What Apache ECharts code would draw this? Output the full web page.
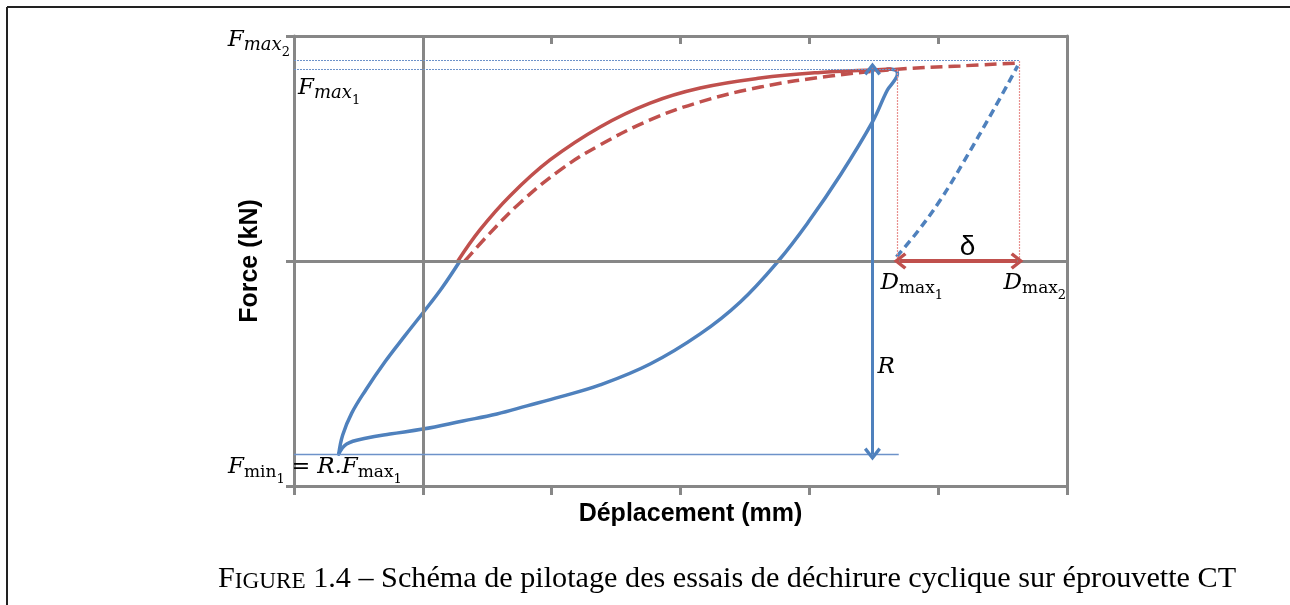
<!DOCTYPE html>
<html>
<head>
<meta charset="utf-8">
<style>
  html, body { margin: 0; padding: 0; background: #fff; }
  #chart { width: 1290px; height: 605px; }
</style>
<script src="https://cdn.jsdelivr.net/npm/echarts@6/dist/echarts.min.js"></script>
</head>
<body>
<div id="chart"></div>
<script>
// axes range (schematic units)
const xRange = [-1, 5]
const yRange = [-1, 1]

// key levels
const fMax1 = 0.853
const fMax2 = 0.893
const fMin1 = -0.858
const dMax1 = 3.684
const dMax2 = 4.632
const rX = 3.49

// cycle 1 : blue loading branch, Fmin -> F = 0
const blueLoad = [[-0.653, -0.858], [-0.622, -0.773], [-0.552, -0.676], [-0.443, -0.573], [-0.295, -0.449], [-0.14, -0.333], [0, -0.231], [0.148, -0.12], [0.288, 0]]
// cycle 1 : red loading, F = 0 -> Fmax1
const redLoad = [[0.272, 0], [0.443, 0.138], [0.676, 0.289], [0.987, 0.449], [1.376, 0.596], [1.764, 0.702], [2.153, 0.769], [2.619, 0.813], [3.085, 0.838], [3.474, 0.849], [3.63, 0.853]]
// cycle 1 : blue unloading, Fmax1 -> Fmin
const blueUnload = [[3.606, 0.853], [3.668, 0.849], [3.684, 0.831], [3.653, 0.796], [3.606, 0.76], [3.49, 0.618], [3.241, 0.382], [2.992, 0.173], [2.759, 0], [2.464, -0.182], [2.153, -0.324], [1.764, -0.458], [1.376, -0.551], [1.065, -0.604], [0.808, -0.644], [0.575, -0.68], [0.311, -0.711], [0, -0.747], [-0.256, -0.769], [-0.435, -0.787], [-0.591, -0.813], [-0.653, -0.858]]
// cycle 2 : red dashed loading
const redLoad2 = [[0.326, 0], [0.521, 0.124], [0.754, 0.258], [1.065, 0.404], [1.376, 0.516], [1.764, 0.627], [2.153, 0.707], [2.619, 0.773], [3.163, 0.822], [3.707, 0.853], [4.173, 0.867], [4.616, 0.88]]
// cycle 2 : blue dashed reloading up to Dmax2
const blueLoad2 = [[3.676, 0.018], [3.839, 0.13], [4.018, 0.272], [4.197, 0.44], [4.43, 0.672], [4.617, 0.867]]

const BLUE = '#4f81bd'
const RED = '#c0504d'
const GREY = '#878787'
const chevron = 'path://M5,0 L10,7 L8.5,8.5 L5,3.4 L1.5,8.5 L0,7 Z'

const chart = echarts.init(document.getElementById('chart'))

const axisLine = { onZero: false, lineStyle: { color: GREY, width: 3 } }
const nameStyle = { fontFamily: 'Liberation Sans', fontWeight: 'bold', fontSize: 25, color: '#000' }

const option = {
  animation: false,
  grid: { left: 294, right: 223, top: 36, bottom: 119 },
  xAxis: [
    {
      type: 'value', min: xRange[0], max: xRange[1], interval: 1, position: 'bottom',
      axisLine: axisLine,
      axisTick: { length: 9, lineStyle: { color: GREY, width: 3 } },
      axisLabel: { show: false }, splitLine: { show: false },
      name: 'Déplacement (mm)', nameLocation: 'middle', nameGap: 16,
      nameTextStyle: Object.assign({ padding: [0, 0, 0, 20] }, nameStyle)
    },
    {
      type: 'value', min: xRange[0], max: xRange[1], interval: 1, position: 'top',
      axisLine: axisLine,
      axisTick: { inside: true, length: 8, lineStyle: { color: GREY, width: 3 } },
      axisLabel: { show: false }, splitLine: { show: false }
    }
  ],
  yAxis: [
    {
      type: 'value', min: yRange[0], max: yRange[1], interval: 1, position: 'left',
      axisLine: axisLine,
      axisTick: { length: 8, lineStyle: { color: GREY, width: 3 } },
      axisLabel: { show: false }, splitLine: { show: false },
      name: 'Force (kN)', nameLocation: 'middle', nameGap: 31, nameRotate: 90, nameTextStyle: nameStyle
    },
    {
      type: 'value', min: yRange[0], max: yRange[1], interval: 1, position: 'right',
      axisLine: axisLine, axisTick: { show: false },
      axisLabel: { show: false }, splitLine: { show: false }
    }
  ],
  series: [
    {
      // zero axes + guide lines
      type: 'line', data: [], z: 1, silent: true,
      markLine: {
        silent: true, symbol: 'none', animation: false,
        label: { show: false },
        data: [
          { xAxis: 0, lineStyle: { color: GREY, width: 3, type: 'solid' } },
          { yAxis: 0, lineStyle: { color: GREY, width: 3, type: 'solid' } },
          [{ coord: [xRange[0], fMax2], lineStyle: { color: '#6d92c9', width: 1, type: [2, 1] } }, { coord: [dMax2, fMax2] }],
          [{ coord: [xRange[0], fMax1], lineStyle: { color: '#6d92c9', width: 1, type: [2, 1] } }, { coord: [dMax1, fMax1] }],
          [{ coord: [xRange[0], fMin1], lineStyle: { color: '#6d92c9', width: 1.3, type: 'solid' } }, { coord: [dMax1 + 0.01, fMin1] }],
          [{ coord: [dMax1, 0], lineStyle: { color: '#e8908e', width: 1.2, type: [2, 1] } }, { coord: [dMax1, fMax1] }],
          [{ coord: [dMax2, 0], lineStyle: { color: '#e8908e', width: 1.2, type: [2, 1] } }, { coord: [dMax2, fMax2] }]
        ]
      }
    },
    {
      type: 'line', data: blueLoad, smooth: 0.4, showSymbol: false, z: 3,
      lineStyle: { color: BLUE, width: 3.5, cap: 'round' }
    },
    {
      type: 'line', data: blueUnload, smooth: 0.4, showSymbol: false, z: 3,
      lineStyle: { color: BLUE, width: 3.5, cap: 'round', join: 'round' }
    },
    {
      type: 'line', data: redLoad, smooth: 0.4, showSymbol: false, z: 4,
      lineStyle: { color: RED, width: 3.5, cap: 'round' }
    },
    {
      type: 'line', data: redLoad2, smooth: 0.4, showSymbol: false, z: 4,
      lineStyle: { color: RED, width: 3.5, type: [12, 6] }
    },
    {
      type: 'line', data: blueLoad2, smooth: 0.4, showSymbol: false, z: 4,
      lineStyle: { color: BLUE, width: 3.5, type: [8, 5] }
    },
    {
      // R and delta arrows
      type: 'line', data: [], z: 5, silent: true,
      markLine: {
        silent: true, animation: false, symbol: [chevron, chevron], symbolSize: [17, 13],
        label: { show: false },
        data: [
          [{ coord: [rX, fMax1], lineStyle: { color: BLUE, width: 3, type: 'solid' }, itemStyle: { color: BLUE } }, { coord: [rX, fMin1] }],
          [{ coord: [dMax1 + 0.02, 0], lineStyle: { color: RED, width: 4, type: 'solid' }, itemStyle: { color: RED } }, { coord: [dMax2 - 0.02, 0] }]
        ]
      }
    }
  ]
}
chart.setOption(option)

// annotations anchored on data points
const serif = 'DejaVu Serif'
const rich = {
  F: { fontFamily: serif, fontStyle: 'italic', fontSize: 23, lineHeight: 30, verticalAlign: 'middle', color: '#000' },
  si: { fontFamily: serif, fontStyle: 'italic', fontSize: 18, lineHeight: 30, verticalAlign: 'bottom', padding: [0, 0, 1, 0], color: '#000' },
  sr: { fontFamily: serif, fontSize: 17, lineHeight: 30, verticalAlign: 'bottom', padding: [0, 0, 1, 0], color: '#000' },
  n: { fontFamily: serif, fontSize: 13, lineHeight: 30, verticalAlign: 'bottom', padding: [0, 0, -4, 0], color: '#000' },
  t: { fontFamily: serif, fontSize: 22, lineHeight: 30, verticalAlign: 'middle', color: '#000' },
  d: { fontFamily: 'Liberation Sans', fontSize: 28, lineHeight: 30, color: '#000' }
}
const notes = [
  { at: [xRange[0], yRange[1]], dx: -4, dy: 4, align: 'right', text: '{F|F}{si|max}{n|2}' },
  { at: [xRange[0], fMax1], dx: 4, dy: 19, align: 'left', text: '{F|F}{si|max}{n|1}' },
  { at: [xRange[0], fMin1], dx: -66, dy: 13, align: 'left', text: '{F|F}{sr|min}{n|1}{t| = }{F|R.F}{sr|max}{n|1}' },
  { at: [dMax1, 0], dx: -17, dy: 22, align: 'left', text: '{F|D}{sr|max}{n|1}' },
  { at: [dMax2, 0], dx: -16, dy: 22, align: 'left', text: '{F|D}{sr|max}{n|2}' },
  { at: [(dMax1 + dMax2) / 2, 0], dx: 9, dy: -14, align: 'center', text: '{d|δ}' },
  { at: [rX, -0.47], dx: 5, dy: 0, align: 'left', text: '{F|R}' }
]
const graphic = notes.map(n => {
  const p = chart.convertToPixel({ gridIndex: 0 }, n.at)
  return {
    type: 'text', x: p[0] + n.dx, y: p[1] + n.dy, z: 10,
    style: { text: n.text, rich: rich, align: n.align, verticalAlign: 'middle' }
  }
})
// page frame and caption
graphic.push(
  { type: 'line', shape: { x1: 7, y1: 7, x2: 1290, y2: 7 }, style: { stroke: '#222', lineWidth: 2 } },
  { type: 'line', shape: { x1: 7, y1: 7, x2: 7, y2: 605 }, style: { stroke: '#222', lineWidth: 2 } },
  {
    type: 'text', x: 218, y: 579,
    style: {
      text: '{a|F}{b|IGURE}{a| 1.4 – Schéma de pilotage des essais de déchirure cyclique sur éprouvette CT}',
      verticalAlign: 'middle',
      rich: {
        a: { fontFamily: 'Liberation Serif', fontSize: 30.2, color: '#111' },
        b: { fontFamily: 'Liberation Serif', fontSize: 23.2, color: '#111', verticalAlign: 'bottom', padding: [0, 0, 1, 0] }
      }
    }
  }
)
chart.setOption({ graphic: graphic })
</script>
</body>
</html>
